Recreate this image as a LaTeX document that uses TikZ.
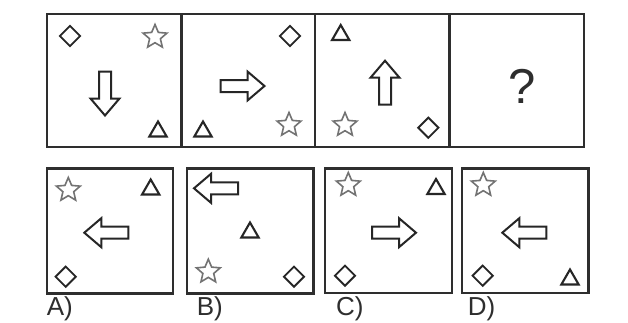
\documentclass[tikz,border=0pt]{standalone}
\usepackage{fontspec}
\setmainfont{Liberation Sans}
\usetikzlibrary{shapes.geometric}
\definecolor{boxc}{HTML}{2E2E2E}
\definecolor{shpc}{HTML}{262626}
\definecolor{starc}{HTML}{737373}
\tikzset{
  cellbox/.style={draw=boxc, line width=2.4pt},
  dia/.style={diamond, draw=shpc, line width=1.9pt, minimum width=21pt, minimum height=21pt, inner sep=0pt, aspect=1},
  tri/.style={regular polygon, regular polygon sides=3, draw=shpc, line width=2.1pt, minimum size=20pt, inner sep=0pt},
  strs/.style={star, star points=5, star point ratio=2.2, draw=starc, line width=1.6pt, minimum size=25pt, inner sep=0pt},
  lbl/.style={anchor=base west, inner sep=0pt, font=\fontsize{26}{26}\selectfont, text=boxc},
  pics/blockarrow/.style={code={
    \draw[draw=shpc, line width=2pt, line join=miter]
      (-22,-6) -- (5,-6) -- (5,-14.5) -- (22,0) -- (5,14.5) -- (5,6) -- (-22,6) -- cycle;
  }}
}
\begin{document}
\begin{tikzpicture}[x=1pt,y=-1pt]
\useasboundingbox (0,0) rectangle (628,322);
\fill[white] (0,0) rectangle (628,322);
% top row
\node[cellbox, rectangle, minimum width=134.5pt, minimum height=133pt, inner sep=0pt] (t1) at (114,80.5) {};
\node[cellbox, rectangle, minimum width=133.5pt, minimum height=133pt, inner sep=0pt] (t2) at (248.25,80.5) {};
\node[cellbox, rectangle, minimum width=134.5pt, minimum height=133pt, inner sep=0pt] (t3) at (382.25,80.5) {};
\node[cellbox, rectangle, minimum width=134.5pt, minimum height=133pt, inner sep=0pt] (t4) at (516.75,80.5) {};
% cell 1
\node[dia] (t1d) at (70,36) {};
\node[strs] (t1s) at (155,37) {};
\pic[rotate=-90] (t1a) at (105,93.5) {blockarrow};
\node[tri] (t1t) at (158,131.5) {};
% cell 2
\node[dia] (t2d) at (290,36) {};
\pic (t2a) at (242.5,86) {blockarrow};
\node[tri] (t2t) at (203,131.5) {};
\node[strs] (t2s) at (289,125) {};
% cell 3
\node[tri] (t3t) at (340.7,35) {};
\pic[rotate=90] (t3a) at (385,82.7) {blockarrow};
\node[strs] (t3s) at (345,125) {};
\node[dia] (t3d) at (428.3,127.7) {};
% cell 4
\node[anchor=base, inner sep=0pt, font=\fontsize{49}{49}\selectfont, text=boxc] (q) at (522.5,103) {?};
% options
\node[cellbox, rectangle, minimum width=126pt, minimum height=125pt, inner sep=0pt] (oa) at (109.7,230.8) {};
\node[cellbox, rectangle, minimum width=126.6pt, minimum height=125pt, inner sep=0pt] (ob) at (250,230.8) {};
\node[cellbox, rectangle, minimum width=126.7pt, minimum height=124.4pt, inner sep=0pt] (oc) at (388.35,230.5) {};
\node[cellbox, rectangle, minimum width=126.6pt, minimum height=124.4pt, inner sep=0pt] (od) at (525,230.5) {};
% A
\node[strs] (as) at (68.3,190) {};
\node[tri] (at) at (150.7,189.5) {};
\pic[rotate=180] (aa) at (106.3,232.7) {blockarrow};
\node[dia] (ad) at (65.7,276.7) {};
% B
\pic[rotate=180] (ba) at (216,188.3) {blockarrow};
\node[tri] (bt) at (250,232.5) {};
\node[strs] (bs) at (208.3,271.7) {};
\node[dia] (bd) at (294,276.7) {};
% C
\node[strs] (cs) at (348.3,185) {};
\node[tri] (ct) at (436,189) {};
\pic (ca) at (394,232.7) {blockarrow};
\node[dia] (cd) at (345,275.7) {};
% D
\node[strs] (ds) at (483.3,185) {};
\pic[rotate=180] (da) at (524.3,232.7) {blockarrow};
\node[dia] (dd) at (482.7,275.7) {};
\node[tri] (dt) at (570,279.5) {};
% labels
\node[lbl] (la) at (46.7,315.5) {A)};
\node[lbl] (lb) at (196.7,315.5) {B)};
\node[lbl] (lc) at (336,315.5) {C)};
\node[lbl] (ld) at (467.7,315.5) {D)};
\end{tikzpicture}
\end{document}
